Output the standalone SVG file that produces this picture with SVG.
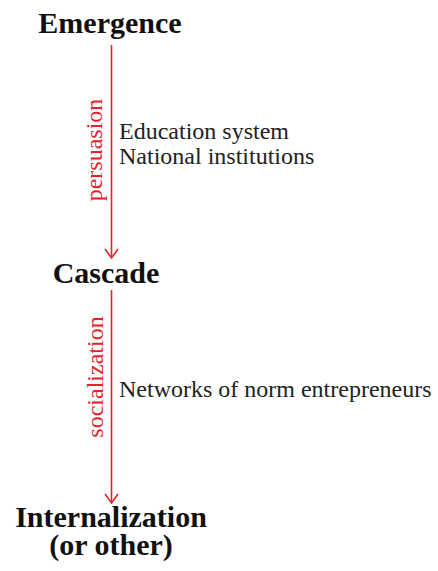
<svg xmlns="http://www.w3.org/2000/svg" width="438" height="571" viewBox="0 0 438 571">
  <style>
    .stage { font-family: "Liberation Serif", "Times New Roman", serif; font-weight: bold; font-size: 30px; fill: #111; text-anchor: middle; }
    .note { font-family: "Liberation Serif", "Times New Roman", serif; font-size: 24px; fill: #222; }
    .mech { font-family: "Liberation Serif", "Times New Roman", serif; font-size: 24px; fill: #e3232b; text-anchor: middle; }
    .flow { stroke: #e3232b; stroke-width: 1.6; fill: none; }
  </style>
  <rect width="438" height="571" fill="#fff"/>

  <!-- stages -->
  <g id="emergence">
    <text class="stage" x="110" y="33">Emergence</text>
  </g>
  <g id="cascade">
    <text class="stage" x="106" y="283">Cascade</text>
  </g>
  <g id="internalization">
    <text class="stage" x="111" y="527">Internalization</text>
    <text class="stage" x="111" y="555">(or other)</text>
  </g>

  <!-- transitions between stages -->
  <g id="connectors">
    <path class="flow" d="M111.5 45 V257"/>
    <path class="flow" d="M105 249 L111.5 258 L118 249"/>
    <path class="flow" d="M111.5 290 V502"/>
    <path class="flow" d="M105 494 L111.5 503 L118 494"/>
    <text class="mech" transform="translate(102 150) rotate(-90)">persuasion</text>
    <text class="mech" transform="translate(102.5 377) rotate(-90)">socialization</text>
  </g>

  <!-- drivers of each transition -->
  <g id="drivers-1">
    <text class="note" x="119" y="139">Education system</text>
    <text class="note" x="119" y="164">National institutions</text>
  </g>
  <g id="drivers-2">
    <text class="note" x="119" y="397">Networks of norm entrepreneurs</text>
  </g>
</svg>
